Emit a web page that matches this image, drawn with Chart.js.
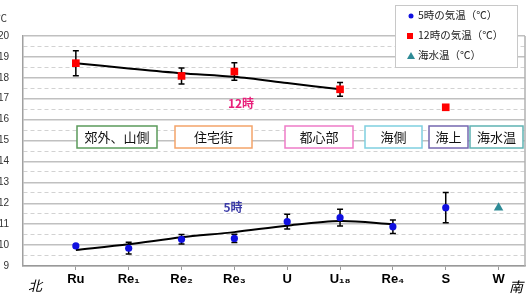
<!DOCTYPE html>
<html>
<head>
<meta charset="utf-8">
<script src="https://cdn.jsdelivr.net/npm/chart.js@4.4.1/dist/chart.umd.min.js"></script>
<style>
  body { margin: 0; background: #fff; }
  #wrap { width: 531px; height: 295px; position: relative; }
</style>
</head>
<body>
<div id="wrap"><canvas id="c"></canvas></div>
<script>
// 地点（北→南）
const sites = ['Ru', 'Re₁', 'Re₂', 'Re₃', 'U', 'U₁₈', 'Re₄', 'S', 'W'];
// 5時の気温と誤差
const temp5 = [9.96, 9.85, 10.28, 10.32, 11.12, 11.31, 10.88, 11.79, null];
const err5 = [0, 0.28, 0.23, 0.2, 0.35, 0.4, 0.32, 0.72, 0];
// 12時の気温と誤差
const temp12 = [18.70, null, 18.09, 18.30, null, 17.45, null, 16.59, null];
const err12 = [0.6, 0, 0.38, 0.42, 0, 0.33, 0, 0, 0];
// 海水温
const seaTemp = [null, null, null, null, null, null, null, null, 11.79];
// 傾向線
const trend12 = [18.70, 18.45, 18.22, 18.05, 17.75, 17.45, null, null, null];
const trend5 = [9.77, 10.04, 10.37, 10.62, 10.93, 11.15, 11.0, null, null];
// 目盛
const yTicks = [9, 10, 11, 12, 13, 14, 15, 16, 17, 18, 19, 20];

const pts = arr => arr.map((v, i) => ({ x: i + 1, y: v }));

// 区分ラベル
const zones = [
  { text: '郊外、山側', x0: 77, x1: 157, color: '#5b9b5b' },
  { text: '住宅街', x0: 175, x1: 252, color: '#f4a46a' },
  { text: '都心部', x0: 285, x1: 353, color: '#ee7cc8' },
  { text: '海側', x0: 365, x1: 422, color: '#7fcfe0' },
  { text: '海上', x0: 429, x1: 468, color: '#7468b0' },
  { text: '海水温', x0: 470, x1: 523, color: '#5fb3b3' }
];

const jp = '"Noto Sans CJK JP", sans-serif';

const errorBars = {
  id: 'errorBars',
  beforeDatasetsDraw(chart) {
    const { ctx, scales: { x, y } } = chart;
    ctx.save();
    ctx.strokeStyle = '#000';
    ctx.lineWidth = 1.5;
    chart.data.datasets.forEach(ds => {
      if (!ds.errors) return;
      ds.data.forEach((p, i) => {
        const e = ds.errors[i];
        if (p.y == null || !e) return;
        const px = x.getPixelForValue(p.x);
        const top = y.getPixelForValue(p.y + e);
        const bot = y.getPixelForValue(p.y - e);
        ctx.beginPath();
        ctx.moveTo(px, top); ctx.lineTo(px, bot);
        ctx.moveTo(px - 3, top); ctx.lineTo(px + 3, top);
        ctx.moveTo(px - 3, bot); ctx.lineTo(px + 3, bot);
        ctx.stroke();
      });
    });
    ctx.restore();
  }
};

const decor = {
  id: 'decor',
  beforeDatasetsDraw(chart) {
    const { ctx, chartArea: a } = chart;
    ctx.save();
    // 右枠
    ctx.strokeStyle = '#b0b0b0';
    ctx.lineWidth = 1.5;
    ctx.beginPath();
    ctx.moveTo(a.right, a.top); ctx.lineTo(a.right, a.bottom);
    ctx.stroke();
    // 区分ボックス
    ctx.font = '13px ' + jp;
    ctx.textAlign = 'center';
    ctx.textBaseline = 'middle';
    zones.forEach(z => {
      ctx.fillStyle = '#fff';
      ctx.fillRect(z.x0, 126, z.x1 - z.x0, 22);
      ctx.strokeStyle = z.color;
      ctx.lineWidth = 1.5;
      ctx.strokeRect(z.x0, 126, z.x1 - z.x0, 22);
      ctx.fillStyle = '#111';
      ctx.fillText(z.text, (z.x0 + z.x1) / 2, 137.5);
    });
    ctx.font = 'bold 12px ' + jp;
    ctx.fillStyle = '#e8207a';
    ctx.fillText('12時', 241, 103);
    ctx.fillStyle = '#3c3ca8';
    ctx.fillText('5時', 233, 207);
    ctx.restore();
  },
  afterDraw(chart) {
    const { ctx } = chart;
    ctx.save();
    // 単位
    ctx.font = '10px ' + jp;
    ctx.fillStyle = '#333';
    ctx.textBaseline = 'middle';
    ctx.fillText('℃', -3, 18);
    // 北・南
    ctx.font = 'italic 14px ' + jp;
    ctx.fillStyle = '#000';
    ctx.textAlign = 'center';
    ctx.fillText('北', 35, 286);
    ctx.fillText('南', 516, 287);
    // 凡例
    ctx.fillStyle = '#fff';
    ctx.fillRect(395, 5, 122, 62);
    ctx.strokeStyle = '#c8c8c8';
    ctx.lineWidth = 1;
    ctx.strokeRect(395.5, 5.5, 122, 62);
    ctx.font = '10.5px ' + jp;
    ctx.textAlign = 'left';
    ctx.fillStyle = '#222';
    ctx.fillText('5時の気温（℃）', 418, 15);
    ctx.fillText('12時の気温（℃）', 418, 35);
    ctx.fillText('海水温（℃）', 418, 55);
    ctx.fillStyle = '#1010e0';
    ctx.beginPath(); ctx.arc(411, 16, 2.5, 0, Math.PI * 2); ctx.fill();
    ctx.fillStyle = '#ff0000';
    ctx.fillRect(407, 33, 6, 6);
    ctx.fillStyle = '#2e8b96';
    ctx.beginPath(); ctx.moveTo(411, 52); ctx.lineTo(415, 59); ctx.lineTo(407, 59); ctx.closePath(); ctx.fill();
    ctx.restore();
  }
};

new Chart(document.getElementById('c'), {
  type: 'scatter',
  data: {
    datasets: [
      { label: '5時の気温(℃)', data: pts(temp5), errors: err5, order: 1,
        pointStyle: 'circle', pointRadius: 3.6, backgroundColor: '#1010e0', borderColor: '#1010e0', borderWidth: 0 },
      { label: '12時の気温(℃)', data: pts(temp12), errors: err12, order: 1,
        pointStyle: 'rect', pointRadius: 5.4, backgroundColor: '#ff0000', borderColor: '#ff0000', borderWidth: 0 },
      { label: '海水温(℃)', data: pts(seaTemp), order: 1,
        pointStyle: 'triangle', pointRadius: 5.5, backgroundColor: '#2e8b96', borderColor: '#2e8b96', borderWidth: 0 },
      { type: 'line', label: 'trend12', data: pts(trend12), order: 3, showLine: true,
        borderColor: '#000', borderWidth: 2, pointRadius: 0, tension: 0.3, spanGaps: false },
      { type: 'line', label: 'trend5', data: pts(trend5), order: 3, showLine: true,
        borderColor: '#000', borderWidth: 2, pointRadius: 0, tension: 0.3, spanGaps: false }
    ]
  },
  options: {
    responsive: true,
    maintainAspectRatio: false,
    animation: false,
    layout: { padding: { top: 36, right: 6, bottom: 0, left: 0 } },
    plugins: { legend: { display: false }, tooltip: { enabled: false } },
    scales: {
      x: {
        type: 'linear', min: 0, max: 9.5,
        afterBuildTicks: s => { s.ticks = sites.map((n, i) => ({ value: i + 1 })); },
        afterFit: s => { s.height = 29; },
        ticks: {
          callback: v => sites[v - 1] || '',
          color: '#000', padding: 2, maxRotation: 0, autoSkip: false,
          font: { family: 'Arial, "Liberation Sans", sans-serif', size: 13, weight: 'bold' }
        },
        grid: { drawOnChartArea: false, drawTicks: true, tickLength: 4, color: '#999' },
        border: { color: '#999', width: 1.5 }
      },
      y: {
        min: 9, max: 20,
        afterBuildTicks: s => {
          const t = [];
          yTicks.forEach((v, i) => { t.push({ value: v }); if (i < yTicks.length - 1) t.push({ value: v + 0.5 }); });
          s.ticks = t;
        },
        afterFit: s => { s.width = 23; },
        ticks: {
          callback: v => (Number.isInteger(v) ? String(v) : ''),
          color: '#333', padding: 14, autoSkip: false,
          font: { family: 'Arial, "Liberation Sans", sans-serif', size: 10 }
        },
        grid: {
          drawTicks: false,
          color: c => (c.tick && !Number.isInteger(c.tick.value) ? '#d2d2d2' : '#c0c0c0'),
          lineWidth: c => (c.tick && !Number.isInteger(c.tick.value) ? 1 : 1.5)
        },
        border: {
          color: '#a0a0a0', width: 1.5,
          dash: c => (c.tick && !Number.isInteger(c.tick.value) ? [4, 3] : [])
        }
      }
    }
  },
  plugins: [decor, errorBars]
});
</script>
</body>
</html>
